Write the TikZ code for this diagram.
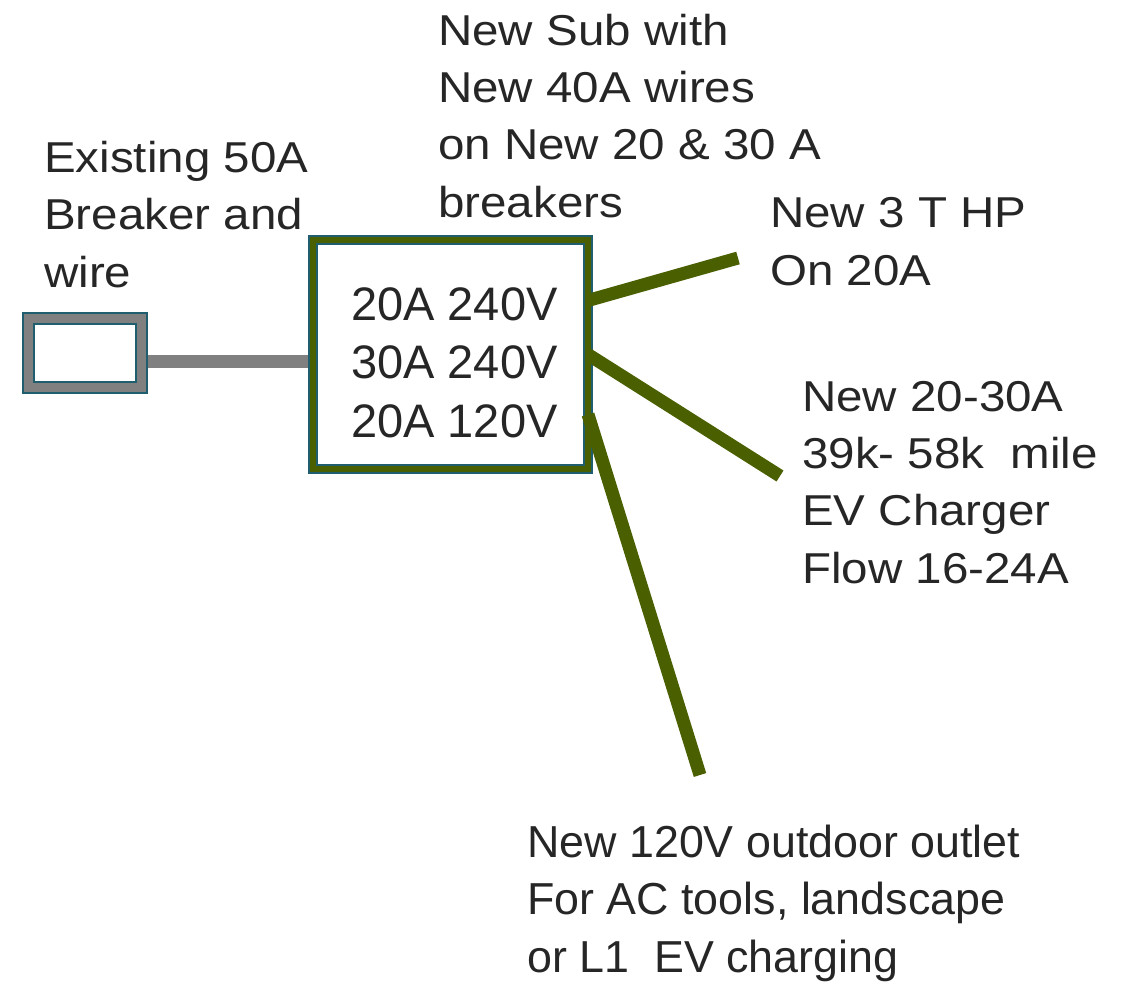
\documentclass[tikz,border=0pt]{standalone}
\usepackage{fontspec}
\setmainfont{Liberation Sans}
\newfontfamily\widefont[FakeStretch=1.1]{Liberation Sans}
\usepackage{xcolor}
\usepackage{tikz}

\definecolor{wiregreen}{RGB}{74,96,0}
\definecolor{edgeteal}{RGB}{31,94,110}
\definecolor{wiregray}{RGB}{128,128,128}
\definecolor{txtgray}{RGB}{38,38,38}

\tikzset{
  lbl/.style={anchor=base west, inner sep=0pt, align=left, text=txtgray,
    font=\widefont\fontsize{43.2}{57.3}\selectfont},
  panel/.style={draw=edgeteal, double=#1, line width=2pt, inner sep=0pt, outer sep=0pt},
  newwire/.style={draw=wiregreen, line width=13pt},
  oldwire/.style={draw=wiregray, line width=13pt}
}

\begin{document}
\begin{tikzpicture}[x=1pt,y=-1pt]
\useasboundingbox (0,0) rectangle (1129,982);
% Existing breaker and the new sub panel
\node[panel=wiregray, double distance=9pt, minimum width=113pt, minimum height=69pt]
  (breaker) at (85,353) {};
\node[panel=wiregreen, double distance=6pt, minimum width=275pt, minimum height=229pt]
  (sub) at (450.5,354.5) {};
% Free ends of the new wires
\coordinate (hp) at (738,258);
\coordinate (ev) at (780,476);
\coordinate (outlet) at (700,775);
% Old 50A wire, then the three new ones
\draw[oldwire] ([xshift=6.5pt,yshift=-8.5pt]breaker.east) -- ([xshift=-5pt,yshift=-7pt]sub.west);
\draw[newwire] ([yshift=54pt]sub.east) -- (hp);
\draw[newwire] (sub.east) -- (ev);
\draw[newwire] ([yshift=-60pt]sub.east) -- (outlet);

% Labels (base = baseline of the last line)
\node[lbl, font=\normalfont\fontsize{47}{58.5}\selectfont] (subtxt) at (351,437)
  {20A 240V\\30A 240V\\20A 120V};
\node[lbl] (oldlbl) at (44,287) {Existing 50A\\Breaker and\\wire};
\node[lbl] (sublbl) at (438,217) {New Sub with\\New 40A wires\\on New 20 \& 30 A\\breakers};
\node[lbl] (hplbl) at (770,285) {New 3 T HP\\On 20A};
\node[lbl] (evlbl) at (802,583) {New 20-30A\\39k- 58k\ \ mile\\EV Charger\\Flow 16-24A};
\node[lbl, font=\normalfont\fontsize{44.8}{57.5}\selectfont] (outletlbl) at (527,972)
  {New 120V outdoor outlet\\For AC tools, landscape\\or L1\ \ EV charging};
\end{tikzpicture}
\end{document}
